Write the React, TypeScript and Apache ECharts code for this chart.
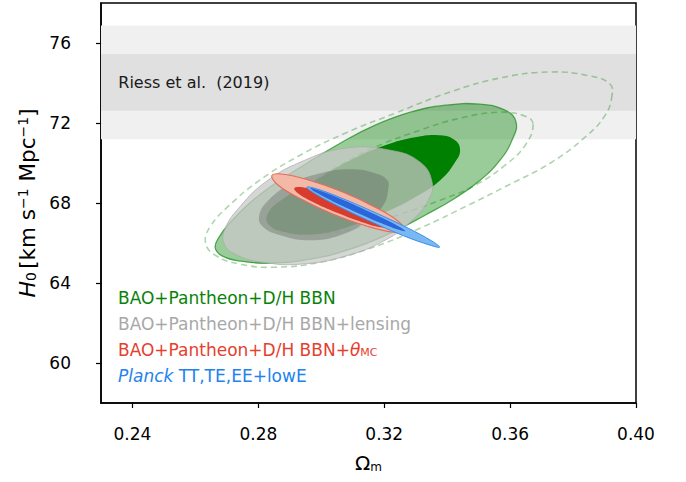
import React, { useEffect, useRef } from "react";
import * as echarts from "echarts";

// ---- axes ----
const X_MIN = 0.23;
const X_MAX = 0.4;
const Y_MIN = 58;
const Y_MAX = 78;
const xTicks = [0.24, 0.28, 0.32, 0.36, 0.4];
const yTicks = [60, 64, 68, 72, 76];

// ---- Riess et al. (2019) H0 bands: [low, high] ----
const riess2sigma = [71.19, 76.87];
const riess1sigma = [72.61, 75.45];
const riessLabelPos = [0.2355, 74.03];

// ---- contours, [Omega_m, H0] vertices ----
const bbn2: number[][] = [
  [0.3619, 72.04], [0.3606, 71.14], [0.3568, 70.14], [0.3505, 69.14], [0.3425, 68.24],
  [0.333, 67.39], [0.3219, 66.49], [0.3092, 65.69], [0.2965, 65.19], [0.2838, 64.99],
  [0.2743, 65.09], [0.2686, 65.34], [0.2663, 65.74], [0.2673, 66.24], [0.2711, 67.04],
  [0.2775, 68.04], [0.2854, 68.99], [0.2949, 69.94], [0.306, 70.99], [0.3171, 71.89],
  [0.3283, 72.54], [0.3394, 72.89], [0.3505, 72.94], [0.3584, 72.64],
];
const bbn1: number[][] = [
  [0.3441, 70.64], [0.3425, 70.04], [0.3378, 69.14], [0.3298, 68.29], [0.3203, 67.54],
  [0.3092, 66.84], [0.2981, 66.44], [0.2886, 66.54], [0.2832, 66.94], [0.2832, 67.54],
  [0.2886, 68.29], [0.2981, 69.14], [0.3092, 70.14], [0.3203, 70.89], [0.3298, 71.29],
  [0.3378, 71.39], [0.3425, 71.14],
];
const altOuter: number[][] = [
  [0.3924, 73.4], [0.3902, 72.39], [0.3838, 71.29], [0.3727, 69.99], [0.36, 68.94],
  [0.3473, 67.94], [0.3314, 66.74], [0.3156, 65.74], [0.2997, 65.04], [0.2854, 64.79],
  [0.2743, 64.94], [0.2663, 65.39], [0.2632, 66.04], [0.2648, 66.84], [0.2705, 67.84],
  [0.28, 69.09], [0.2927, 70.34], [0.3076, 71.49], [0.3235, 72.49], [0.341, 73.55],
  [0.3568, 74.25], [0.3727, 74.55], [0.3854, 74.35], [0.3917, 73.95],
];
const altInner: number[][] = [
  [0.3673, 71.94], [0.3648, 70.89], [0.3584, 69.89], [0.3489, 68.89], [0.3378, 68.14],
  [0.3251, 67.44], [0.3124, 66.79], [0.2997, 66.49], [0.2902, 66.59], [0.2844, 66.84],
  [0.2832, 67.24], [0.2879, 67.99], [0.2965, 68.99], [0.306, 69.89], [0.3171, 70.79],
  [0.3314, 71.64], [0.3441, 72.24], [0.3568, 72.54], [0.3648, 72.34],
];
const lens2: number[][] = [
  [0.3352, 69.04], [0.334, 68.14], [0.3289, 67.14], [0.3203, 66.14], [0.3076, 65.34],
  [0.2933, 64.94], [0.2813, 65.04], [0.2733, 65.39], [0.2692, 65.94], [0.2695, 66.74],
  [0.2743, 67.84], [0.2822, 69.04], [0.2933, 70.04], [0.3076, 70.74], [0.3219, 70.64],
  [0.3314, 70.04],
];
const lens1: number[][] = [
  [0.3213, 68.74], [0.3197, 67.89], [0.314, 67.04], [0.306, 66.39], [0.2965, 66.14],
  [0.287, 66.39], [0.2813, 66.84], [0.2803, 67.39], [0.2832, 68.14], [0.2902, 68.94],
  [0.2997, 69.49], [0.3092, 69.69], [0.3171, 69.49], [0.321, 69.14],
];
const theta2: number[][] = [
  [0.3265, 66.61], [0.3229, 66.54], [0.3146, 66.84], [0.3038, 67.44], [0.2937, 68.19],
  [0.2863, 68.89], [0.2843, 69.37], [0.2879, 69.44], [0.2962, 69.14], [0.307, 68.54],
  [0.3171, 67.79], [0.3244, 67.09],
];
const theta1: number[][] = [
  [0.3213, 66.84], [0.3187, 66.79], [0.313, 67.04], [0.3054, 67.49], [0.2981, 67.99],
  [0.293, 68.44], [0.2914, 68.74], [0.294, 68.79], [0.2997, 68.54], [0.3073, 68.14],
  [0.3146, 67.59], [0.3197, 67.14],
];
const planck2: number[][] = [
  [0.3376, 65.79], [0.3346, 65.89], [0.3265, 66.34], [0.3159, 67.06], [0.3054, 67.84],
  [0.2979, 68.48], [0.2954, 68.79], [0.2985, 68.71], [0.3065, 68.24], [0.3171, 67.52],
  [0.3276, 66.74], [0.3351, 66.1],
];
const planck1: number[][] = [
  [0.3267, 66.59], [0.3244, 66.67], [0.3187, 67.01], [0.3112, 67.53], [0.3037, 68.08],
  [0.2984, 68.52], [0.2965, 68.74], [0.2987, 68.66], [0.3044, 68.32], [0.312, 67.8],
  [0.3195, 67.25], [0.3248, 66.81],
];

// ---- legend texts ----
const legendLines = [
  { text: "BAO+Pantheon+D/H BBN", color: "#0a820a" },
  { text: "BAO+Pantheon+D/H BBN+lensing", color: "#a8a8a8" },
  { text: "BAO+Pantheon+D/H BBN+{t|θ}{s|MC}", color: "#e5402e" },
  { text: "{it|Planck} TT,TE,EE+lowE", color: "#2382ee" },
];

const FONT = "DejaVu Sans";

function contour(name: string, pts: number[][], style: any, smooth = 0.45) {
  return {
    type: "custom",
    name,
    silent: true,
    data: [[0.3, 68]],
    renderItem: (_p: any, api: any) => ({
      type: "polygon",
      shape: { points: pts.map((q) => api.coord(q)), smooth },
      style,
    }),
  };
}

export default function App() {
  const ref = useRef<HTMLDivElement>(null);
  useEffect(() => {
    if (!ref.current) return;
    const chart = echarts.init(ref.current, null, { renderer: "svg" });
    const bands = [riess2sigma, riess1sigma];
    const bandColors = ["#f0f0f0", "#e0e0e0"];
    const option: any = {
      animation: false,
      backgroundColor: "#ffffff",
      grid: {
        left: 101,
        right: 50,
        top: 3,
        bottom: 79,
        show: true,
        borderColor: "#000",
        borderWidth: 1.5,
        backgroundColor: "transparent",
      },
      xAxis: {
        type: "value",
        min: X_MIN,
        max: X_MAX,
        splitLine: { show: false },
        axisLine: { show: true, lineStyle: { color: "#000", width: 1.5 } },
        axisTick: { show: true, length: 5, lineStyle: { color: "#000", width: 1.2 }, customValues: xTicks },
        axisLabel: {
          customValues: xTicks,
          formatter: (v: number) => v.toFixed(2),
          margin: 22,
          fontSize: 17,
          fontFamily: FONT,
          color: "#000",
        },
        name: "{a|Ω}{s|m}",
        nameLocation: "middle",
        nameGap: 50,
        nameTextStyle: {
          rich: {
            a: { fontSize: 20, fontFamily: FONT, color: "#000" },
            s: { fontSize: 12, fontFamily: FONT, color: "#000", verticalAlign: "bottom" },
          },
        },
      },
      yAxis: {
        type: "value",
        min: Y_MIN,
        max: Y_MAX,
        splitLine: { show: false },
        axisLine: { show: true, lineStyle: { color: "#000", width: 1.5 } },
        axisTick: { show: true, length: 5, lineStyle: { color: "#000", width: 1.2 }, customValues: yTicks },
        axisLabel: {
          customValues: yTicks,
          margin: 30,
          fontSize: 17,
          fontFamily: FONT,
          color: "#000",
        },
        name: "{i|H}{s|0} {a|[km s}{p|−1}{a| Mpc}{p|−1}{a|]}",
        nameLocation: "middle",
        nameGap: 61,
        nameTextStyle: {
          rich: {
            i: { fontSize: 22, fontFamily: FONT, fontStyle: "italic", color: "#000" },
            a: { fontSize: 21.5, fontFamily: FONT, color: "#000" },
            s: { fontSize: 14, fontFamily: FONT, color: "#000", verticalAlign: "bottom" },
            p: { fontSize: 14, fontFamily: FONT, color: "#000", verticalAlign: "top" },
          },
        },
      },
      series: [
        {
          type: "custom",
          name: "Riess et al. (2019)",
          silent: true,
          data: bands.map((b, i) => [i, b[0], b[1]]),
          encode: { x: -1, y: [1, 2] },
          renderItem: (params: any, api: any) => {
            const i = params.dataIndex;
            const b = bands[i];
            const p0 = api.coord([X_MIN, b[1]]);
            const p1 = api.coord([X_MAX, b[0]]);
            const children: any[] = [
              {
                type: "rect",
                shape: { x: p0[0], y: p0[1], width: p1[0] - p0[0], height: p1[1] - p0[1] },
                style: { fill: bandColors[i] },
              },
            ];
            if (i === 1) {
              const t = api.coord(riessLabelPos);
              children.push({
                type: "text",
                x: t[0],
                y: t[1],
                style: {
                  text: "Riess et al.  (2019)",
                  fontSize: 16,
                  fontFamily: FONT,
                  fill: "#1a1a1a",
                  align: "left",
                  verticalAlign: "middle",
                },
              });
            }
            return { type: "group", children };
          },
        },
        contour("BBN 2σ", bbn2, { fill: "rgba(0,128,0,0.4)", stroke: "rgba(0,128,0,0.6)", lineWidth: 1.3 }),
        contour("BBN 1σ", bbn1, { fill: "#008000", stroke: "none" }),
        contour("alt 2σ", altOuter, { fill: "none", stroke: "rgba(0,128,0,0.32)", lineWidth: 1.6, lineDash: [6, 4] }),
        contour("alt 1σ", altInner, { fill: "none", stroke: "rgba(0,128,0,0.32)", lineWidth: 1.6, lineDash: [6, 4] }),
        contour("lensing 2σ", lens2, { fill: "rgba(200,200,200,0.75)", stroke: "rgba(170,170,170,0.7)", lineWidth: 1 }),
        contour("lensing 1σ", lens1, { fill: "rgba(76,76,76,0.31)", stroke: "none" }),
        contour("theta 2σ", theta2, { fill: "#f4b8a7", stroke: "#e46c5a", lineWidth: 1.1 }, 0.4),
        contour("theta 1σ", theta1, { fill: "#d73c2c", stroke: "none" }, 0.4),
        contour("Planck 2σ", planck2, { fill: "#7ab8f4", stroke: "#3b8de6", lineWidth: 1 }, 0.4),
        contour("Planck 1σ", planck1, { fill: "#2a66da", stroke: "none" }, 0.4),
      ],
      graphic: legendLines.map((l, i) => ({
        type: "text",
        x: 118,
        y: 297.5 + i * 26.2,
        silent: true,
        style: {
          text: l.text,
          fontSize: 17,
          fontFamily: FONT,
          fill: l.color,
          align: "left",
          verticalAlign: "middle",
          rich: {
            t: { fontSize: 17, fontFamily: FONT, fontStyle: "italic", fill: l.color },
            s: { fontSize: 11, fontFamily: FONT, fill: l.color, verticalAlign: "bottom" },
            it: { fontSize: 17, fontFamily: FONT, fontStyle: "italic", fill: l.color },
          },
        },
      })),
    };
    chart.setOption(option);
    return () => chart.dispose();
  }, []);
  return (
    <div
      ref={ref}
      style={{ position: "fixed", left: 0, top: 0, width: 686, height: 482, background: "#fff" }}
    />
  );
}
